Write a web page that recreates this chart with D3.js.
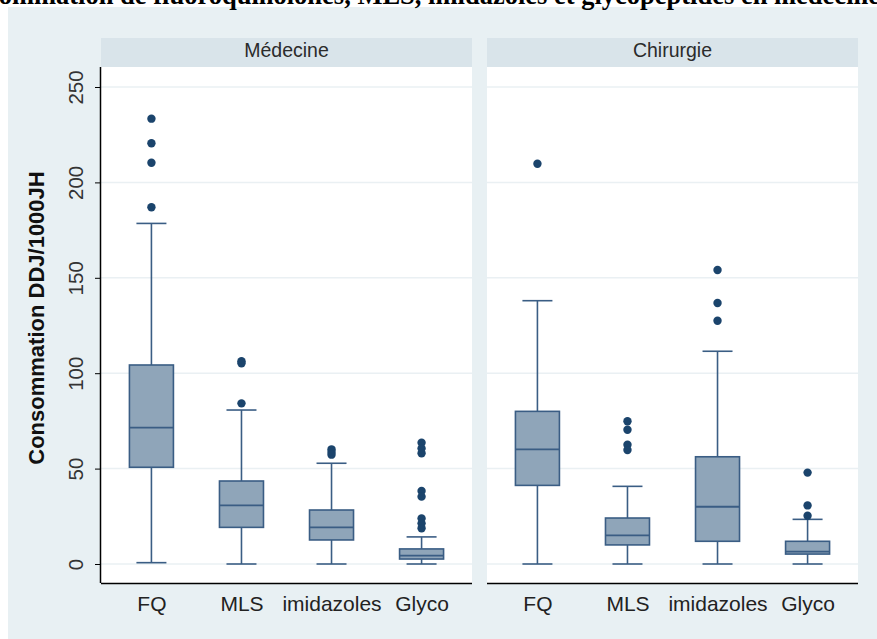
<!DOCTYPE html>
<html>
<head>
<meta charset="utf-8">
<script src="https://cdn.jsdelivr.net/npm/d3@7"></script>
<style>
  html, body { margin: 0; padding: 0; background: #ffffff; }
  svg { display: block; }
</style>
</head>
<body>
<script>
// Category labels along each panel's x axis
const categories = ["FQ", "MLS", "imidazoles", "Glyco"];
// Panel (service) names
const panels = ["Médecine", "Chirurgie"];
// Y axis ticks
const yTicks = [0, 50, 100, 150, 200, 250];

// Box statistics per category: lower whisker, Q1, median, Q3, upper whisker
const medecineLow    = [0.7, 0, 0, 0];
const medecineQ1     = [50.7, 19.2, 12.6, 2.6];
const medecineMedian = [71.5, 30.7, 19.2, 4.4];
const medecineQ3     = [104.3, 43.5, 28.3, 7.9];
const medecineHigh   = [178.5, 80.7, 52.8, 14.2];
const medecineOutliers = [
  [233.4, 220.5, 210.3, 187.0],
  [106.3, 105.2, 84.2],
  [60.1, 58.7, 57.3],
  [63.6, 60.6, 58.0, 38.3, 35.3, 23.9, 21.3, 18.7]
];

const chirurgieLow    = [0, 0, 0, 0];
const chirurgieQ1     = [41.2, 10.0, 11.9, 5.2];
const chirurgieMedian = [60.1, 15.0, 30.0, 6.5];
const chirurgieQ3     = [80.0, 24.1, 56.2, 11.9];
const chirurgieHigh   = [138.0, 40.7, 111.5, 23.4];
const chirurgieOutliers = [
  [209.8],
  [74.8, 70.4, 62.5, 59.7],
  [154.1, 136.8, 127.5],
  [47.9, 30.7, 25.3]
];

const panelData = [
  { name: panels[0], low: medecineLow, q1: medecineQ1, med: medecineMedian, q3: medecineQ3, high: medecineHigh, out: medecineOutliers },
  { name: panels[1], low: chirurgieLow, q1: chirurgieQ1, med: chirurgieMedian, q3: chirurgieQ3, high: chirurgieHigh, out: chirurgieOutliers }
];

const W = 877, H = 639;
const svg = d3.select("body").append("svg").attr("width", W).attr("height", H);

// Outer graph region
svg.append("rect").attr("x", 8).attr("y", 7).attr("width", W - 8).attr("height", H - 7)
  .attr("fill", "#e8f0f3");

// Title (runs past the page edges)
svg.append("text")
  .attr("x", 880).attr("y", 4)
  .attr("text-anchor", "end")
  .attr("font-family", "'Liberation Serif', 'DejaVu Serif', serif")
  .attr("font-weight", "bold")
  .attr("font-size", 26.5)
  .attr("fill", "#000")
  .text("Consommation de fluoroquinolones, MLS, imidazoles et glycopeptides en médecine");

const plotTop = 67, plotBottom = 583;
const stripTop = 38;
const panelX = [[101, 472], [487, 858]];

const y = d3.scaleLinear().domain([0, 250]).range([564, 87]);

const boxColor = "#8fa5b9", lineColor = "#3a5d84", dotColor = "#1b446c";
const sans = "'Liberation Sans', Arial, sans-serif";
const boxW = 44, capW = 30;

panelData.forEach((p, pi) => {
  const [x0, x1] = panelX[pi];
  const g = svg.append("g");

  // strip header
  g.append("rect").attr("x", x0).attr("y", stripTop).attr("width", x1 - x0).attr("height", plotTop - stripTop)
    .attr("fill", "#d9e4ea");
  g.append("text").attr("x", (x0 + x1) / 2).attr("y", 57)
    .attr("text-anchor", "middle").attr("font-family", sans).attr("font-size", 19.5)
    .attr("fill", "#2b2b2b").text(p.name);

  // plot region
  g.append("rect").attr("x", x0).attr("y", plotTop).attr("width", x1 - x0).attr("height", plotBottom - plotTop)
    .attr("fill", "#ffffff");

  // grid lines
  g.selectAll("line.grid").data(yTicks).join("line")
    .attr("x1", x0).attr("x2", x1)
    .attr("y1", d => y(d)).attr("y2", d => y(d))
    .attr("stroke", "#eaf0f3").attr("stroke-width", 1.5);

  const x = d3.scalePoint().domain(categories).range([x0, x1]).padding(0.56);

  // x axis
  const xAxis = d3.axisBottom(x).tickSize(0).tickPadding(0);
  const ax = g.append("g").attr("transform", `translate(0,${plotBottom})`).call(xAxis);
  ax.select(".domain").attr("d", `M${x0},0.5H${x1}`).attr("stroke", "#000").attr("stroke-width", 1.5);
  ax.selectAll("text").attr("font-family", sans).attr("font-size", 21).attr("fill", "#222")
    .attr("dy", 0).attr("y", 28);

  categories.forEach((c, i) => {
    const cx = x(c);
    const bg = g.append("g");
    // whiskers
    bg.append("line").attr("x1", cx).attr("x2", cx).attr("y1", y(p.low[i])).attr("y2", y(p.q1[i]))
      .attr("stroke", lineColor).attr("stroke-width", 1.6);
    bg.append("line").attr("x1", cx).attr("x2", cx).attr("y1", y(p.q3[i])).attr("y2", y(p.high[i]))
      .attr("stroke", lineColor).attr("stroke-width", 1.6);
    // caps
    [p.low[i], p.high[i]].forEach(v => {
      bg.append("line").attr("x1", cx - capW / 2).attr("x2", cx + capW / 2).attr("y1", y(v)).attr("y2", y(v))
        .attr("stroke", lineColor).attr("stroke-width", 1.6);
    });
    // box
    bg.append("rect").attr("x", cx - boxW / 2).attr("y", y(p.q3[i]))
      .attr("width", boxW).attr("height", y(p.q1[i]) - y(p.q3[i]))
      .attr("fill", boxColor).attr("stroke", lineColor).attr("stroke-width", 1.6);
    // median
    bg.append("line").attr("x1", cx - boxW / 2).attr("x2", cx + boxW / 2)
      .attr("y1", y(p.med[i])).attr("y2", y(p.med[i]))
      .attr("stroke", lineColor).attr("stroke-width", 1.8);
    // outliers
    bg.selectAll("circle").data(p.out[i]).join("circle")
      .attr("cx", cx).attr("cy", d => y(d)).attr("r", 4.2).attr("fill", dotColor);
  });

  // y axis on the first panel only
  if (pi === 0) {
    const yAxis = d3.axisLeft(y).tickValues(yTicks).tickSize(6).tickPadding(0);
    const ay = g.append("g").attr("transform", `translate(${x0},0)`).call(yAxis);
    ay.select(".domain").attr("d", `M-0.5,${plotTop}V${plotBottom}`).attr("stroke", "#000").attr("stroke-width", 1.5);
    ay.selectAll(".tick line").attr("stroke", "#000").attr("stroke-width", 1);
    ay.selectAll("text")
      .attr("font-family", sans).attr("font-size", 20.5).attr("fill", "#333")
      .attr("x", null).attr("dy", null)
      .attr("text-anchor", "middle")
      .attr("transform", `translate(-18,0) rotate(-90)`);
  }
});

// y axis title
svg.append("text")
  .attr("transform", "translate(43.5,318) rotate(-90)")
  .attr("text-anchor", "middle")
  .attr("font-family", sans).attr("font-weight", "bold").attr("font-size", 22)
  .attr("fill", "#111")
  .text("Consommation DDJ/1000JH");
</script>
</body>
</html>
